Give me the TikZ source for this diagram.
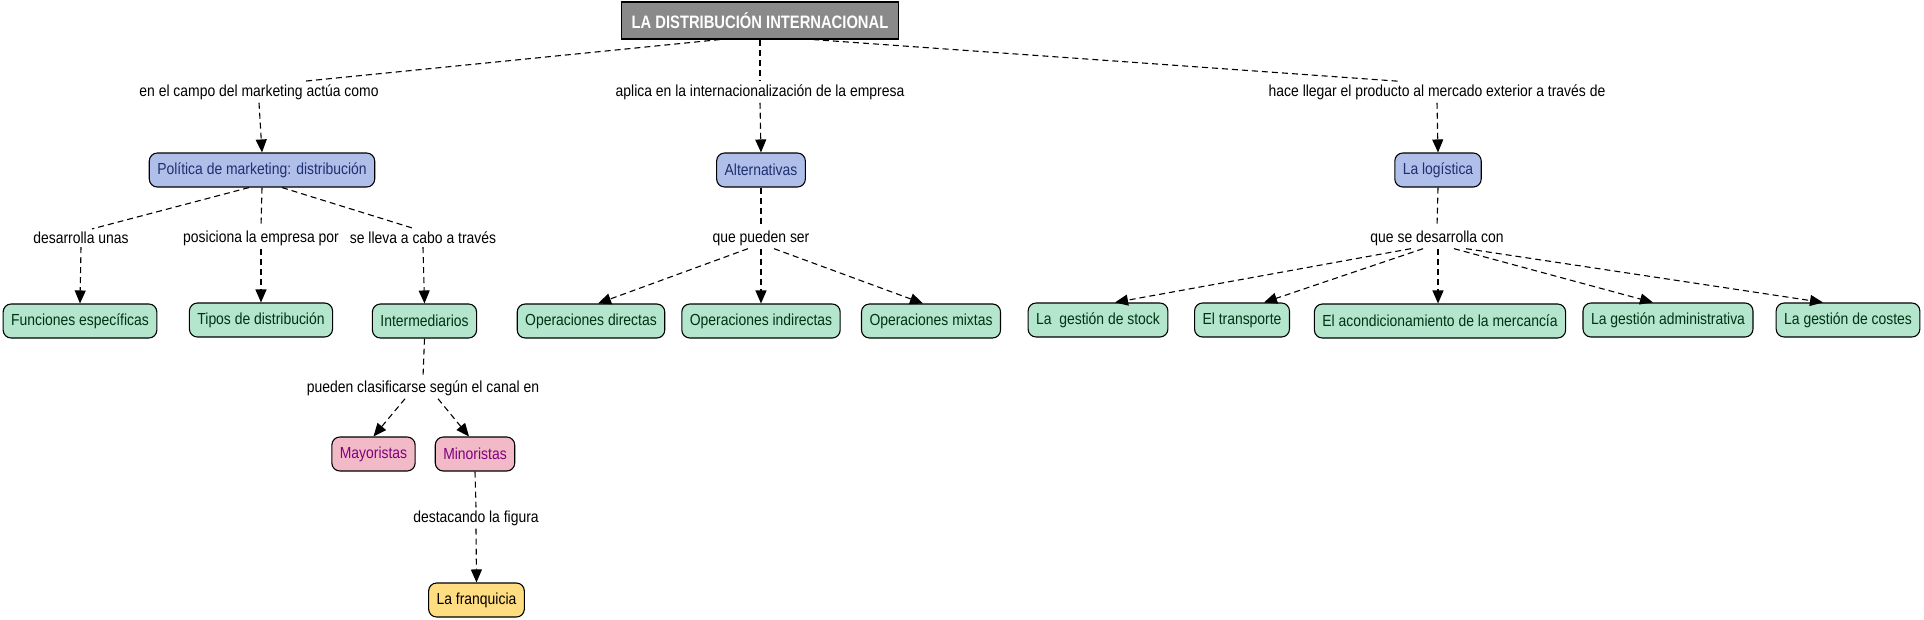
\documentclass[tikz,border=0pt]{standalone}
\usepackage{fontspec}
\setmainfont[FakeStretch=0.87]{Liberation Sans}
\newfontfamily\titlefont[FakeStretch=0.82]{Liberation Sans}
\usetikzlibrary{arrows.meta}
\definecolor{titlegray}{RGB}{138,138,138}
\definecolor{polblue}{RGB}{176,191,234}
\definecolor{poltext}{RGB}{30,48,110}
\definecolor{mintgreen}{RGB}{179,230,204}
\definecolor{mintext}{RGB}{0,50,20}
\definecolor{rosepink}{RGB}{242,186,198}
\definecolor{rosetext}{RGB}{128,0,128}
\definecolor{franyellow}{RGB}{255,221,128}

\begin{document}
\begin{tikzpicture}[x=1pt, y=-1pt,
    concept/.style={draw, line width=1.1pt, rounded corners=8pt, minimum height=34pt,
        inner xsep=8pt, font=\fontsize{16}{19}\selectfont},
    topbox/.style={draw, line width=1.1pt, fill=titlegray, text=white, minimum height=37pt,
        inner xsep=10pt, font=\fontsize{18}{21}\titlefont\bfseries},
    bluebox/.style={concept, fill=polblue, text=poltext},
    greenbox/.style={concept, fill=mintgreen, text=mintext},
    pinkbox/.style={concept, fill=rosepink, text=rosetext},
    yellowbox/.style={concept, fill=franyellow, text=black},
    linkword/.style={inner sep=3pt, font=\fontsize{16}{19}\selectfont},
    link/.style={line width=1.1pt, dash pattern=on 6pt off 4pt},
    linkarrow/.style={link, -{Triangle[length=13pt,width=11pt]}}
]
    % Canvas
    \useasboundingbox (0,0) rectangle (1924,619);

    % Title
    \node[topbox] (title) at (760,20.5) {LA DISTRIBUCIÓN INTERNACIONAL};

    % First level linking phrases
    \node[linkword] (campo) at (259,92) {en el campo del marketing actúa como};
    \node[linkword] (aplica) at (760,92) {aplica en la internacionalización de la empresa};
    \node[linkword] (llegar) at (1437,92) {hace llegar el producto al mercado exterior a través de};

    % Second level concepts
    \node[bluebox] (politica) at (262,170) {Política de marketing: distribución};
    \node[bluebox] (alternativas) at (761,170) {Alternativas};
    \node[bluebox] (logistica) at (1438,170) {La logística};

    % Second level linking phrases
    \node[linkword] (desarrolla) at (81,238) {desarrolla unas};
    \node[linkword] (posiciona) at (261,238) {posiciona la empresa por};
    \node[linkword] (traves) at (423,238) {se lleva a cabo a través};
    \node[linkword] (pueden) at (761,238) {que pueden ser};
    \node[linkword] (desarrollacon) at (1437,238) {que se desarrolla con};

    % Third level concepts
    \node[greenbox] (funciones) at (80,321) {Funciones específicas};
    \node[greenbox] (tipos) at (261,320) {Tipos de distribución};
    \node[greenbox] (intermediarios) at (424.5,321) {Intermediarios};
    \node[greenbox] (directas) at (591,321) {Operaciones directas};
    \node[greenbox] (indirectas) at (761,321) {Operaciones indirectas};
    \node[greenbox] (mixtas) at (931,321) {Operaciones mixtas};
    \node[greenbox] (stock) at (1098,320) {La\ \ gestión de stock};
    \node[greenbox] (transporte) at (1242,320) {El transporte};
    \node[greenbox] (acondic) at (1440,321) {El acondicionamiento de la mercancía};
    \node[greenbox] (administrativa) at (1668,320) {La gestión administrativa};
    \node[greenbox] (costes) at (1848,320) {La gestión de costes};

    % Intermediarios branch
    \node[linkword] (clasificarse) at (423,388) {pueden clasificarse según el canal en};
    \node[pinkbox] (mayoristas) at (373.5,454) {Mayoristas};
    \node[pinkbox] (minoristas) at (475,454) {Minoristas};
    \node[linkword] (destacando) at (476,518) {destacando la figura};
    \node[yellowbox] (franquicia) at (476.5,600) {La franquicia};

    % Connectors from the title
    \draw[link] ([xshift=-40pt]title.south) -- ([xshift=45pt]campo.north);
    \draw[link] (title.south) -- (aplica.north);
    \draw[link] ([xshift=53pt]title.south) -- ([xshift=-38pt]llegar.north);
    \draw[linkarrow] (campo.south) -- (politica.north);
    \draw[linkarrow] (aplica.south) -- (alternativas.north);
    \draw[linkarrow] (llegar.south) -- (logistica.north);

    % Politica branch
    \draw[link] ([xshift=-13pt]politica.south) -- ([xshift=11pt]desarrolla.north);
    \draw[link] (politica.south) -- (posiciona.north);
    \draw[link] ([xshift=20pt]politica.south) -- ([xshift=-8pt]traves.north);
    \draw[linkarrow] (desarrolla.south) -- (funciones.north);
    \draw[linkarrow] (posiciona.south) -- (tipos.north);
    \draw[linkarrow] (traves.south) -- (intermediarios.north);
    \draw[link] (intermediarios.south) -- (clasificarse.north);
    \draw[linkarrow] ([xshift=-18pt]clasificarse.south) -- (mayoristas.north);
    \draw[linkarrow] ([xshift=15pt]clasificarse.south) -- ([xshift=-6pt]minoristas.north);
    \draw[link] (minoristas.south) -- (destacando.north);
    \draw[linkarrow] (destacando.south) -- (franquicia.north);

    % Alternativas branch
    \draw[link] (alternativas.south) -- (pueden.north);
    \draw[linkarrow] ([xshift=-13pt]pueden.south) -- ([xshift=7pt]directas.north);
    \draw[linkarrow] (pueden.south) -- (indirectas.north);
    \draw[linkarrow] ([xshift=13pt]pueden.south) -- ([xshift=-8pt]mixtas.north);

    % Logistica branch
    \draw[link] (logistica.south) -- (desarrollacon.north);
    \draw[linkarrow] ([xshift=-26pt]desarrollacon.south) -- ([xshift=17pt]stock.north);
    \draw[linkarrow] ([xshift=-14pt]desarrollacon.south) -- ([xshift=22pt]transporte.north);
    \draw[linkarrow] ([xshift=1pt]desarrollacon.south) -- ([xshift=-2pt]acondic.north);
    \draw[linkarrow] ([xshift=17pt]desarrollacon.south) -- ([xshift=-15pt]administrativa.north);
    \draw[linkarrow] ([xshift=29pt]desarrollacon.south) -- ([xshift=-25pt]costes.north);
\end{tikzpicture}
\end{document}
